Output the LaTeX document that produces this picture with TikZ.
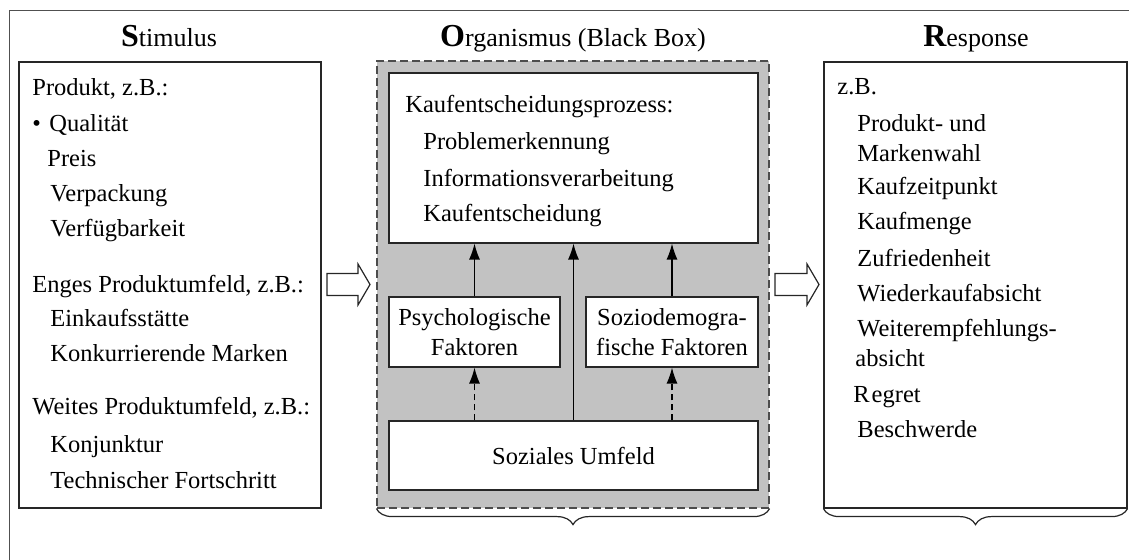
\documentclass[tikz,border=0pt]{standalone}
\usepackage{fontspec}
\setmainfont{Liberation Serif}
\usetikzlibrary{arrows.meta,decorations.pathreplacing}
\definecolor{boxgray}{RGB}{194,194,194}
\definecolor{framegray}{RGB}{80,80,80}
\begin{document}
\begin{tikzpicture}[x=0.5pt,y=-0.5pt,
  txt/.style={anchor=base west,inner sep=0pt,font=\fontsize{12.25}{15}\selectfont},
  ttl/.style={anchor=base,inner sep=0pt,font=\fontsize{13}{15}\selectfont},
  frame/.style={draw=black!85,line width=0.6pt,fill=white},
  fbox/.style={frame,inner sep=0pt,align=center,font=\fontsize{12.25}{15}\selectfont},
  bigarrow/.style={draw=black!85,line width=0.6pt,fill=white,line join=miter},
  upar/.style={line width=0.6pt,-{Latex[length=8pt,width=5.5pt]}},
  dupar/.style={upar,dash pattern=on 3pt off 2pt},
  brc/.style={draw=black!85,line width=0.6pt,decorate,decoration={brace,mirror,amplitude=8pt}}
]
\useasboundingbox (0,0) rectangle (1129,560);
% outer frame
\coordinate (fl) at (9.5,560);
\coordinate (fc) at (9.5,10.5);
\coordinate (fr) at (1129,10.5);
\draw[framegray,line width=0.5pt] (fl) -- (fc) -- (fr);

% titles
\node[ttl] (tS) at (169,47) {{\fontsize{16}{18}\selectfont\bfseries S}timulus};
\node[ttl] (tO) at (573,47) {{\fontsize{16}{18}\selectfont\bfseries O}rganismus (Black Box)};
\node[ttl] (tR) at (976,47) {{\fontsize{16}{18}\selectfont\bfseries R}esponse};

% main boxes
\node[frame,minimum width=151pt,minimum height=223pt,inner sep=0pt] (stim) at (170,285) {};
\node[draw=black!70,fill=boxgray,line width=0.6pt,dash pattern=on 4pt off 2pt,
      minimum width=196pt,minimum height=223.5pt,inner sep=0pt] (org) at (573,284.5) {};
\node[frame,minimum width=151.5pt,minimum height=223pt,inner sep=0pt] (resp) at (975.5,285) {};

% inner boxes
\node[fbox,minimum width=184.5pt,minimum height=85pt] (kauf) at (573.5,158) {};
\node[fbox,minimum width=85.5pt,minimum height=35pt] (psy) at (474.5,332) {Psychologische\\Faktoren};
\node[fbox,minimum width=86pt,minimum height=35pt] (soz) at (672,332) {Soziodemogra-\\fische Faktoren};
\node[fbox,minimum width=184.5pt,minimum height=34.5pt] (umf) at (573.5,455.5) {Soziales Umfeld};

% arrows inside organism
\draw[upar] (psy.north) -- (psy.north |- kauf.south);
\draw[upar] (soz.north) -- (soz.north |- kauf.south);
\draw[upar] (umf.north) -- (umf.north |- kauf.south);
\draw[dupar] (umf.north -| psy.north) -- (psy.south);
\draw[dupar] (umf.north -| soz.north) -- (soz.south);

% Kauf text
\node[txt] (k0) at (405,113) {Kaufentscheidungsprozess:};
\node[txt] (k1) at (423,150) {Problemerkennung};
\node[txt] (k2) at (423,187) {Informationsverarbeitung};
\node[txt] (k3) at (423,222) {Kaufentscheidung};

% Stimulus text
\node[txt] (s0) at (32,96) {Produkt, z.B.:};
\node[txt] (sb) at (32,132) {•};
\node[txt] (s1) at (49,132) {Qualität};
\node[txt] (s2) at (47,167) {Preis};
\node[txt] (s3) at (50,202) {Verpackung};
\node[txt] (s4) at (50,237) {Verfügbarkeit};
\node[txt] (s5) at (32,293) {Enges Produktumfeld, z.B.:};
\node[txt] (s6) at (50,327) {Einkaufsstätte};
\node[txt] (s7) at (50,362) {Konkurrierende Marken};
\node[txt] (s8) at (32,415) {Weites Produktumfeld, z.B.:};
\node[txt] (s9) at (50,453) {Konjunktur};
\node[txt] (s10) at (50,488) {Technischer Fortschritt};

% Response text
\node[txt] (r0) at (837,95) {z.B.};
\node[txt] (r1) at (857,132) {Produkt- und};
\node[txt] (r2) at (857,162) {Markenwahl};
\node[txt] (r3) at (857,195) {Kaufzeitpunkt};
\node[txt] (r4) at (857,230) {Kaufmenge};
\node[txt] (r5) at (857,267) {Zufriedenheit};
\node[txt] (r6) at (857,302) {Wiederkaufabsicht};
\node[txt] (r7) at (857,337) {Weiterempfehlungs-};
\node[txt] (r8) at (855,367) {absicht};
\node[txt] (r9) at (853,403) {R\kern1pt egret};
\node[txt] (r10) at (857,438) {Beschwerde};

% block arrows
\coordinate (a1) at (327,284.5);
\draw[bigarrow] (a1) ++(0,-11) -- ++(31,0) -- ++(0,-9.5) -- (370,284.5) -- (358,305) -- ++(0,-9.5) -- ++(-31,0) -- cycle;
\coordinate (a2) at (775,284.5);
\draw[bigarrow] (a2) ++(0,-11) -- ++(32,0) -- ++(0,-9.5) -- (819,284.5) -- (807,305) -- ++(0,-9.5) -- ++(-32,0) -- cycle;

% braces
\draw[brc] (org.south west) -- (org.south east);
\draw[brc] (resp.south west) -- (resp.south east);
\end{tikzpicture}
\end{document}
